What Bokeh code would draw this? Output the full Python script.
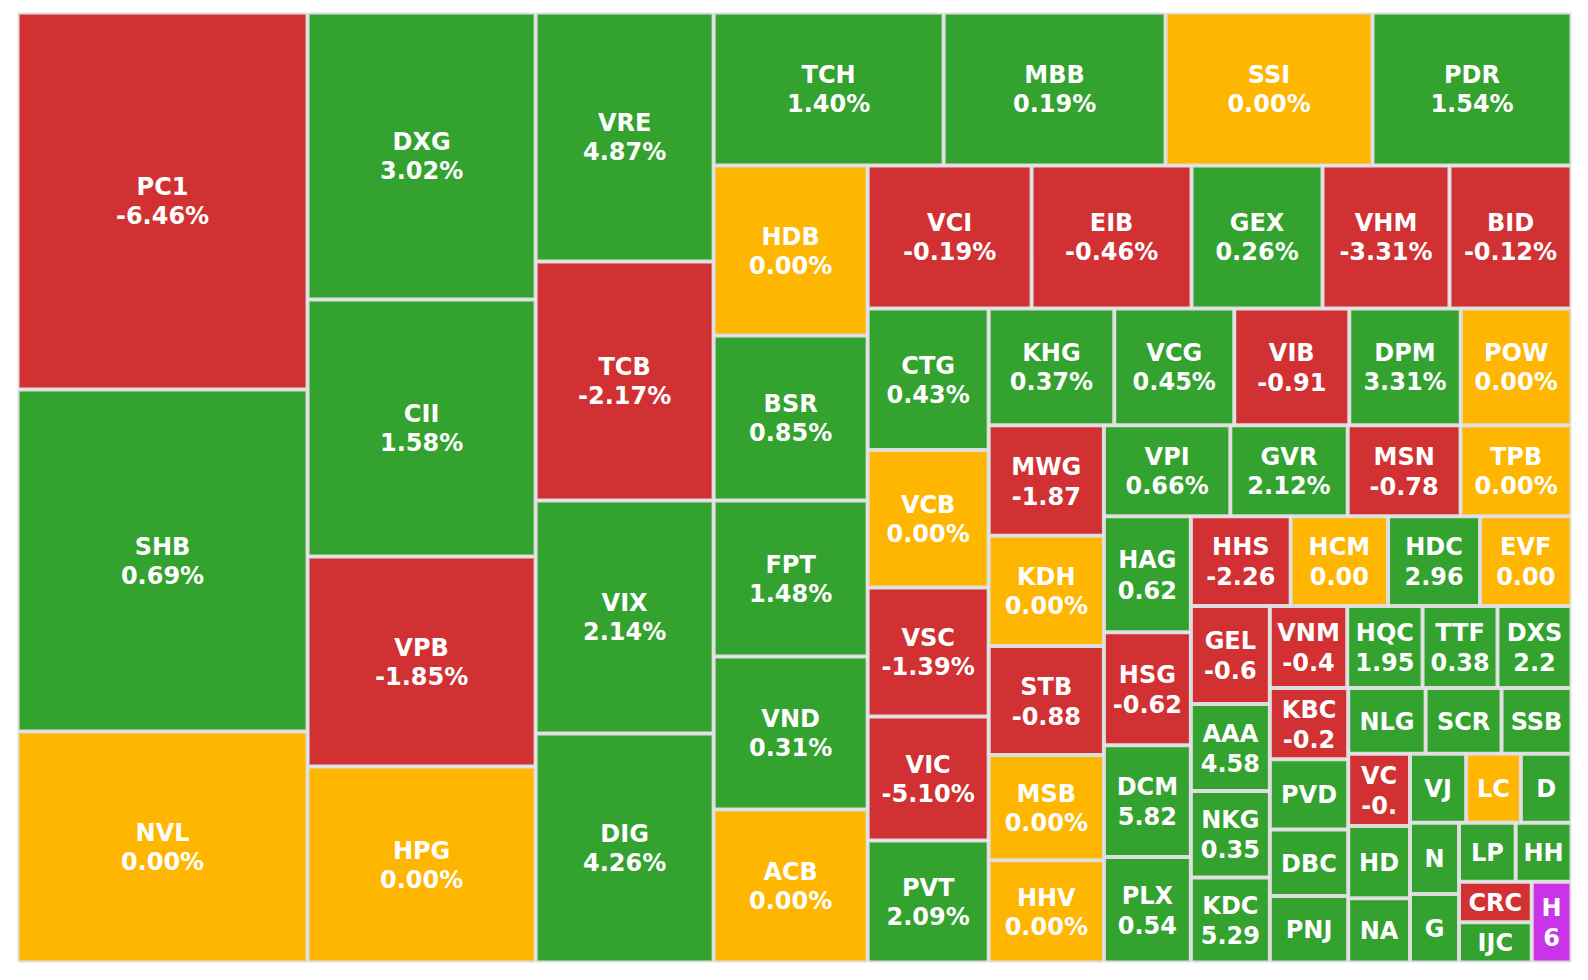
from bokeh.plotting import figure
from bokeh.models import ColumnDataSource, Range1d
from bokeh.core.properties import value
from bokeh.embed import file_html
from bokeh.resources import INLINE

# ---------------- data ----------------
tickers = ["PC1", "SHB", "NVL", "DXG", "CII", "VPB", "HPG", "VRE", "TCB", "VIX",
           "DIG", "TCH", "MBB", "SSI", "PDR", "HDB", "BSR", "FPT", "VND", "ACB",
           "VCI", "EIB", "GEX", "VHM", "BID", "CTG", "VCB", "VSC", "VIC", "PVT",
           "KHG", "VCG", "VIB", "DPM", "POW", "MWG", "KDH", "STB", "MSB", "HHV",
           "VPI", "GVR", "MSN", "TPB", "HAG", "HSG", "DCM", "PLX", "HHS", "HCM",
           "HDC", "EVF", "GEL", "AAA", "NKG", "KDC", "VNM", "HQC", "TTF", "DXS",
           "KBC", "PVD", "DBC", "PNJ", "NLG", "SCR", "SSB", "VC", "HD", "NA",
           "VJ", "LC", "D", "N", "G", "LP", "HH", "CRC", "IJC", "H"]

trade_value = [1093.3, 991.8, 669.9, 654.4, 586.0, 478.8, 446.9, 443.2, 425.4, 414.7,
               407.6, 351.9, 339.7, 316.7, 304.5, 261.8, 254.1, 240.2, 235.6, 235.4,
               234.5, 228.8, 187.3, 181.6, 174.5, 171.2, 166.4, 156.1, 150.0, 147.6,
               146.3, 139.8, 134.0, 129.9, 129.0, 127.5, 127.0, 125.4, 121.3, 117.9,
               115.1, 106.9, 102.8, 101.0, 100.9, 98.3, 97.0, 91.8, 89.5, 87.3,
               82.5, 82.0, 77.4, 68.7, 68.3, 67.2, 63.6, 61.9, 61.6, 60.8,
               55.7, 55.0, 52.2, 52.1, 50.8, 49.8, 45.9, 44.7, 44.6, 39.7,
               38.8, 37.8, 35.0, 34.9, 33.5, 33.4, 32.9, 29.4, 29.3, 32.1]

change_text = ["-6.46%", "0.69%", "0.00%", "3.02%", "1.58%", "-1.85%", "0.00%", "4.87%", "-2.17%", "2.14%",
               "4.26%", "1.40%", "0.19%", "0.00%", "1.54%", "0.00%", "0.85%", "1.48%", "0.31%", "0.00%",
               "-0.19%", "-0.46%", "0.26%", "-3.31%", "-0.12%", "0.43%", "0.00%", "-1.39%", "-5.10%", "2.09%",
               "0.37%", "0.45%", "-0.91", "3.31%", "0.00%", "-1.87", "0.00%", "-0.88", "0.00%", "0.00%",
               "0.66%", "2.12%", "-0.78", "0.00%", "0.62", "-0.62", "5.82", "0.54", "-2.26", "0.00",
               "2.96", "0.00", "-0.6", "4.58", "0.35", "5.29", "-0.4", "1.95", "0.38", "2.2",
               "-0.2", "", "", "", "", "", "", "-0.", "", "",
               "", "", "", "", "", "", "", "", "", "6"]

trend = ["down", "up", "ref", "up", "up", "down", "ref", "up", "down", "up",
         "up", "up", "up", "ref", "up", "ref", "up", "up", "up", "ref",
         "down", "down", "up", "down", "down", "up", "ref", "down", "down", "up",
         "up", "up", "down", "up", "ref", "down", "ref", "down", "ref", "ref",
         "up", "up", "down", "ref", "up", "down", "up", "up", "down", "ref",
         "up", "ref", "down", "up", "up", "up", "down", "up", "up", "up",
         "down", "up", "up", "up", "up", "up", "up", "down", "up", "up",
         "up", "ref", "up", "up", "up", "up", "up", "down", "up", "ceil"]

trend_colors = {"up": "#33A22F", "down": "#D13133", "ref": "#FFB600", "ceil": "#C935E6"}

# ---------------- layout ----------------
W, H = 1554, 950          # treemap box in px
OFF_X, OFF_Y = 17, 12     # treemap offset inside the figure
FIG_W, FIG_H = 1580, 972


def squarify(vals, x0, y0, x1, y1, ratio=0.91):
    rects = [None] * len(vals)
    n = len(vals)
    i0 = i1 = 0
    total = float(sum(vals))
    while i0 < n:
        dx, dy = x1 - x0, y1 - y0
        s = vals[i1]
        i1 += 1
        mn = mx = s
        alpha = max(dy / dx, dx / dy) / (total * ratio)
        beta = s * s * alpha
        min_ratio = max(mx / beta, beta / mn)
        while i1 < n:
            nv = vals[i1]
            s2 = s + nv
            mn2, mx2 = min(mn, nv), max(mx, nv)
            beta = s2 * s2 * alpha
            new_ratio = max(mx2 / beta, beta / mn2)
            if new_ratio > min_ratio:
                break
            s, mn, mx, min_ratio = s2, mn2, mx2, new_ratio
            i1 += 1
        if dx < dy:
            ny = y0 + dy * s / total
            k = dx / s
            cx = x0
            for j in range(i0, i1):
                w = vals[j] * k
                rects[j] = (cx, y0, cx + w, ny)
                cx += w
            y0 = ny
        else:
            nx = x0 + dx * s / total
            k = dy / s
            cy = y0
            for j in range(i0, i1):
                h = vals[j] * k
                rects[j] = (x0, cy, nx, cy + h)
                cy += h
            x0 = nx
        total -= s
        i0 = i1
    return rects


rects = squarify(trade_value, 0, 0, W, H)
inset = 1.0
src = ColumnDataSource(dict(
    left=[r[0] + inset for r in rects],
    right=[r[2] - inset for r in rects],
    top=[r[1] + inset for r in rects],
    bottom=[r[3] - inset for r in rects],
    color=[trend_colors[t] for t in trend],
))

cxs = [(r[0] + r[2]) / 2 for r in rects]
cys = [(r[1] + r[3]) / 2 for r in rects]
name_y = [cy - 13.8 if c else cy + 1.0 for cy, c in zip(cys, change_text)]
chg_idx = [i for i, c in enumerate(change_text) if c]
name_src = ColumnDataSource(dict(x=cxs, y=name_y, t=tickers))
chg_src = ColumnDataSource(dict(x=[cxs[i] for i in chg_idx],
                                y=[cys[i] + 15.3 for i in chg_idx],
                                t=[change_text[i] for i in chg_idx]))

p = figure(frame_width=FIG_W, frame_height=FIG_H, output_backend="svg", toolbar_location=None,
           x_range=Range1d(-OFF_X, FIG_W - OFF_X), y_range=Range1d(FIG_H - OFF_Y, -OFF_Y),
           x_axis_location=None, y_axis_location=None, min_border=0,
           background_fill_color="white", border_fill_color="white", tools="")
p.outline_line_color = None
p.xgrid.visible = False
p.ygrid.visible = False

p.quad(left="left", right="right", top="top", bottom="bottom", source=src,
       fill_color="color", line_color="#DDDDDD", line_width=2)

for s in (name_src, chg_src):
    p.text(x="x", y="y", text="t", source=s, text_color="white",
           text_font=value("DejaVu Sans"), text_font_style="bold",
           text_font_size="24px", text_align="center", text_baseline="alphabetic")

open("out.html", "w").write(file_html(p, INLINE))
